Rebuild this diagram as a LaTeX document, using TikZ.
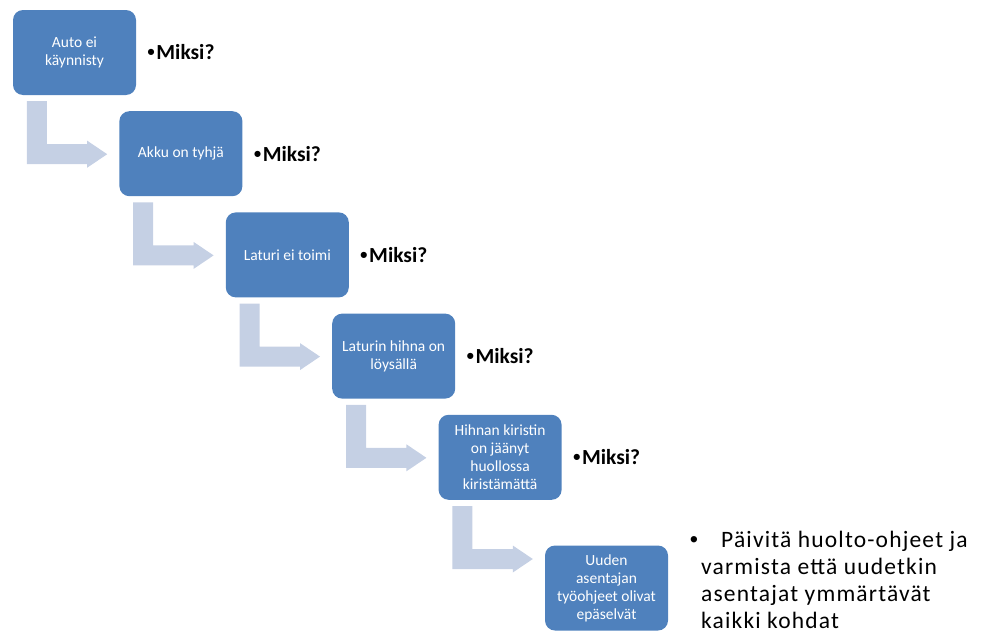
\documentclass[tikz,border=0pt]{standalone}
\usepackage{fontspec}
\setmainfont{Carlito}
\newfontfamily\widefont[LetterSpace=5]{Carlito}
\newfontfamily\dotfont{Liberation Sans}
\usetikzlibrary{positioning,calc}
\definecolor{boxblue}{RGB}{79,129,189}
\definecolor{arrowgrey}{RGB}{197,208,228}

\begin{document}
\begin{tikzpicture}[
		x=1pt,y=-1pt,
		stepbox/.style={fill=boxblue,rounded corners=10pt,minimum width=123pt,minimum height=85pt,
			inner sep=2pt,align=center,text=white,font=\fontsize{15.5}{18}\selectfont},
		why/.style={inner sep=0pt,font=\fontsize{21.5}{25}\selectfont\bfseries},
		advice/.style={inner sep=0pt,align=left,font=\fontsize{23.5}{26.7}\selectfont\widefont},
		bent/.style={fill=arrowgrey}]
		\useasboundingbox (0,0) rectangle (981,637);
		
		% Steps
		\node[stepbox] (b1) at (74.5,52.5) {Auto ei\\käynnisty};
		\node[stepbox] (b2) at (180.9,153.7) {Akku on tyhjä};
		\node[stepbox] (b3) at (287.3,254.9) {Laturi ei toimi};
		\node[stepbox] (b4) at (393.7,356.1) {Laturin hihna on\\löysällä};
		\node[stepbox] (b5) at (500.1,457.3) {Hihnan kiristin\\on jäänyt\\huollossa\\kiristämättä};
		\node[stepbox] (b6) at (606.5,588) {Uuden\\asentajan\\työohjeet olivat\\epäselvät};
		
		% Questions
		\node[why] (m1) [right=11pt of b1] {{\dotfont•}\hspace{1.5pt}Miksi?};
		\node[why] (m2) [right=11pt of b2] {{\dotfont•}\hspace{1.5pt}Miksi?};
		\node[why] (m3) [right=11pt of b3] {{\dotfont•}\hspace{1.5pt}Miksi?};
		\node[why] (m4) [right=11pt of b4] {{\dotfont•}\hspace{1.5pt}Miksi?};
		\node[why] (m5) [right=11pt of b5] {{\dotfont•}\hspace{1.5pt}Miksi?};
		\node[advice,anchor=base west] (fix) at (701,628)
		{\llap{{\dotfont•}\hspace{3pt}}\hspace{20pt}Päivitä huolto-ohjeet ja\\varmista että uudetkin\\asentajat ymmärtävät\\kaikki kohdat};
		
		% Bent arrows
		\foreach \a/\b in {b1/b2,b2/b3,b3/b4,b4/b5,b5/b6}
		\fill[bent] let \p1=(\a.south west), \p2=(\b.west) in
		({\x1+14pt},{\y1-6pt}) -- ({\x1+34pt},{\y1-6pt}) -- ({\x1+34pt},{\y1-49pt})
		-- ({\x2-32pt},{\y1-49pt}) -- ({\x2-32pt},{\y1-45.5pt}) -- ({\x2-12pt},{\y1-59pt})
		-- ({\x2-32pt},{\y1-72.5pt}) -- ({\x2-32pt},{\y1-69pt}) -- ({\x1+14pt},{\y1-69pt}) -- cycle;
		
\end{tikzpicture}
\end{document}
